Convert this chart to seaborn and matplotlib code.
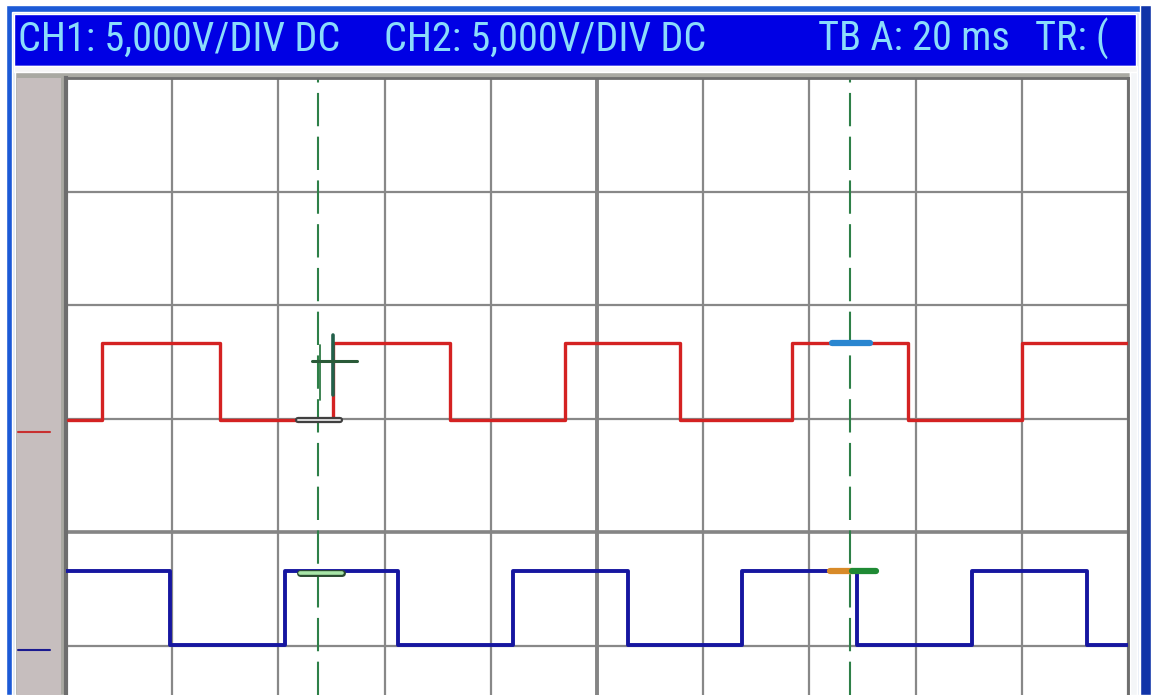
"""
Oscilloscope screen capture - two square-wave channels with cursors.
"""
import matplotlib
matplotlib.use("Agg")
import matplotlib.pyplot as plt
import seaborn as sns
import pandas as pd
from matplotlib.patches import Rectangle
from matplotlib.transforms import Bbox, TransformedBbox
from matplotlib import font_manager

sns.set_style("white")

W, H = 1151, 695

# ---------------------------------------------------------------
# Data (time in ms, 20 ms/div; voltage in V, 5 V/div)
# ---------------------------------------------------------------
ch1_times = [0.4, 6.8, 29.0, 50.3, 72.3, 94.0, 115.6, 136.7, 158.6, 180.0, 200.0]
ch1_state = [0, 1, 0, 1, 0, 1, 0, 1, 0, 1, 1]
ch1_low, ch1_high = 4.93, 8.33
ch1_marker = 4.4

ch2_times = [0.0, 19.6, 41.2, 62.5, 84.2, 105.8, 127.3, 149.0, 170.6, 192.3, 200.0]
ch2_state = [1, 0, 1, 0, 1, 0, 1, 0, 1, 0, 0]
ch2_low, ch2_high = -4.98, -1.72
ch2_marker = -5.2

cursor_times = [47.5, 147.6]

header_parts = ["CH1: 5,000V/DIV DC", "CH2: 5,000V/DIV DC", "TB A: 20 ms", "TR: ("]
header_x = [18, 384, 818, 1035]

xlim = (0, 200)
ylim = (-7.18, 20)

# ---------------------------------------------------------------
# Figure / window chrome
# ---------------------------------------------------------------
fig = plt.figure(figsize=(W / 100, H / 100), dpi=100, facecolor="white")


def px_rect(x0, y0, x1, y1, color, z=0, **kw):
    r = Rectangle((x0 / W, 1 - y1 / H), (x1 - x0) / W, (y1 - y0) / H,
                  transform=fig.transFigure, facecolor=color, zorder=z, **kw)
    fig.patches.append(r)


px_rect(6, 5, 1151, 695, "#1c5ad6")
px_rect(1140, 5, 1151, 695, "#1034a8", z=0.1)
px_rect(12, 12, 1139, 695, "#dfe8f4", z=0.2)
px_rect(14, 14, 1136, 66, "#0000e4", z=0.3)
px_rect(14, 66, 1137, 72, "#f6f6f6", z=0.3)
px_rect(15, 72, 1130, 695, "#a9a9a2", z=0.4)
px_rect(1130, 72, 1137, 695, "#f4f6f8", z=0.4)

head_font, head_size = "DejaVu Sans", 22
for fam, size in [("Liberation Sans Narrow", 30), ("Roboto Condensed", 29),
                  ("Roboto", 25)]:
    try:
        font_manager.findfont(fam, fallback_to_default=False)
        head_font, head_size = fam, size
        break
    except ValueError:
        pass

clip = TransformedBbox(Bbox([[14 / W, 1 - 66 / H], [1133 / W, 1 - 14 / H]]), fig.transFigure)
for txt, x in zip(header_parts, header_x):
    t = fig.text(x / W, 1 - 39 / H, txt, color="#8adcfb", fontsize=head_size,
                 family=[head_font, "DejaVu Sans"], va="center", ha="left", zorder=1)
    t.set_clip_box(clip)
    t.set_clip_on(True)

# ---------------------------------------------------------------
# Ground marker strip
# ---------------------------------------------------------------
sax = fig.add_axes([17 / W, 0, (61 - 17) / W, (695 - 78) / H])
sax.set_zorder(2)
sax.set_facecolor("#c6bebe")
sax.set_xlim(0, 1)
sax.set_ylim(*ylim)
sax.plot([0.02, 0.75], [ch1_marker, ch1_marker], color="#c83030", lw=1.5)
sax.plot([0.02, 0.75], [ch2_marker, ch2_marker], color="#1a1a90", lw=1.5)
sax.set_xticks([])
sax.set_yticks([])
for s in sax.spines.values():
    s.set_visible(False)

# ---------------------------------------------------------------
# Main screen
# ---------------------------------------------------------------
ax = fig.add_axes([66 / W, 0, (1128 - 66) / W, (695 - 78) / H])
ax.set_zorder(2)
ax.set_facecolor("white")
ax.set_xlim(*xlim)
ax.set_ylim(*ylim)
ax.set_xticks(range(0, 201, 20))
ax.set_yticks([-5, 0, 5, 10, 15, 20])
ax.grid(True, color="#888888", lw=1.6)
ax.axvline(100, color="#858585", lw=2.8, zorder=1)
ax.axhline(0, color="#858585", lw=2.6, zorder=1)
ax.tick_params(length=0, labelbottom=False, labelleft=False)
for name, s in ax.spines.items():
    s.set_color("#6e6e6e")
ax.spines["left"].set_linewidth(3)
ax.spines["top"].set_linewidth(2)
ax.spines["right"].set_linewidth(2)
ax.spines["bottom"].set_visible(False)

df1 = pd.DataFrame({"t": ch1_times,
                    "v": [ch1_high if s else ch1_low for s in ch1_state]})
df2 = pd.DataFrame({"t": ch2_times,
                    "v": [ch2_high if s else ch2_low for s in ch2_state]})

sns.lineplot(data=df1, x="t", y="v", ax=ax, estimator=None, sort=False,
             drawstyle="steps-post", color="#d42222", lw=2.4, zorder=3)
sns.lineplot(data=df2, x="t", y="v", ax=ax, estimator=None, sort=False,
             drawstyle="steps-post", color="#1616a0", lw=2.8, zorder=3)

# cursors
for ct in cursor_times:
    ax.axvline(ct, color="#2e8048", lw=1.5, ls=(0, (16, 5)), zorder=2)

# cursor markers (CH1 @ cursor 1)
ax.plot([50.3, 50.3], [8.68, 6.04], color="#23604a", lw=2.6, zorder=5)
ax.plot([47.8, 47.8], [8.24, 5.81], color="#2f7a45", lw=1.3, zorder=5)
ax.plot([46.3, 54.8], [7.53, 7.53], color="#2a5a38", lw=2.2, zorder=5)
ax.plot([43.7, 51.6], [4.93, 4.93], color="#404040", lw=4.5, zorder=5)
ax.plot([43.7, 51.6], [4.93, 4.93], color="#d8d8d8", lw=1.4, zorder=6)
# CH2 @ cursor 1
ax.plot([44.1, 52.0], [-1.81, -1.81], color="#2a4a30", lw=5, zorder=5)
ax.plot([44.1, 52.0], [-1.81, -1.81], color="#a8e6a8", lw=2.6, zorder=6)
# cursor 2
ax.plot([144.3, 151.4], [8.33, 8.33], color="#2a86d0", lw=4.5, zorder=5)
ax.plot([143.9, 148.0], [-1.72, -1.72], color="#d88a28", lw=4.5, zorder=5)
ax.plot([148.0, 152.5], [-1.72, -1.72], color="#1f8a34", lw=4.5, zorder=5)

ax.set_xlabel("")
ax.set_ylabel("")

plt.savefig("out.png", dpi=100, facecolor=fig.get_facecolor())
plt.close()
